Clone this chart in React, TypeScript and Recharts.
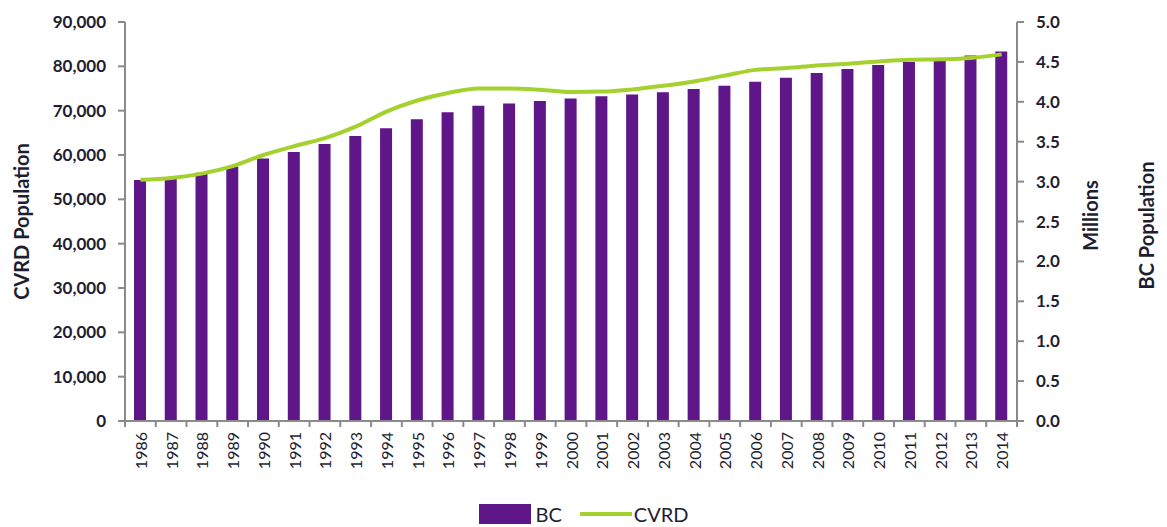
import {
  ComposedChart,
  Bar,
  Line,
  XAxis,
  YAxis,
  Legend,
} from "recharts";

const years = [
  "1986", "1987", "1988", "1989", "1990", "1991", "1992", "1993", "1994", "1995",
  "1996", "1997", "1998", "1999", "2000", "2001", "2002", "2003", "2004", "2005",
  "2006", "2007", "2008", "2009", "2010", "2011", "2012", "2013", "2014",
];

// BC population, millions (right axis)
const bcPopulation = [
  3.02, 3.05, 3.11, 3.19, 3.29, 3.37, 3.47, 3.57, 3.67, 3.78,
  3.87, 3.95, 3.98, 4.01, 4.04, 4.07, 4.09, 4.12, 4.16, 4.2,
  4.25, 4.3, 4.36, 4.41, 4.46, 4.5, 4.52, 4.58, 4.63,
];

// CVRD population (left axis)
const cvrdPopulation = [
  54400, 54800, 55800, 57500, 60000, 62000, 63800, 66400, 69800, 72300,
  74000, 75000, 75000, 74700, 74200, 74300, 74800, 75600, 76600, 77900,
  79200, 79600, 80200, 80600, 81100, 81500, 81600, 81900, 82700,
];

const leftTicks = [0, 10000, 20000, 30000, 40000, 50000, 60000, 70000, 80000, 90000];
const rightTicks = [0, 0.5, 1, 1.5, 2, 2.5, 3, 3.5, 4, 4.5, 5];

const chartData = years.map((year, i) => ({
  year,
  bc: bcPopulation[i],
  cvrd: cvrdPopulation[i],
}));

const PURPLE = "#5f1689";
const GREEN = "#a5d12f";
const AXIS = "#8a8a8a";
const TEXT = "#1e1e32";
const FONT = "Lato, 'Open Sans', sans-serif";

const HALF_BAND = (1017 - 125) / years.length / 2;

function YearTick(props: any) {
  const { x, y, payload, index } = props;
  return (
    <g>
      <line x1={x - HALF_BAND} x2={x - HALF_BAND} y1={y - 8} y2={y - 2} stroke={AXIS} strokeWidth={2} />
      {index === years.length - 1 && (
        <line x1={x + HALF_BAND} x2={x + HALF_BAND} y1={y - 8} y2={y - 2} stroke={AXIS} strokeWidth={2} />
      )}
      <text
        x={x}
        y={y + 3}
        transform={`rotate(-90, ${x}, ${y + 3})`}
        textAnchor="end"
        dominantBaseline="central"
        fontSize={16}
        fontFamily={FONT}
        fill={TEXT}
      >
        {payload.value}
      </text>
    </g>
  );
}

function RightTitle(props: any) {
  const { viewBox } = props;
  const cy = viewBox.y + viewBox.height / 2;
  return (
    <g fontFamily={FONT} fontWeight="bold" fontSize={20} fill={TEXT}>
      <text x={1090} y={cy - 6} transform={`rotate(-90, 1090, ${cy - 6})`} textAnchor="middle" dominantBaseline="central">
        Millions
      </text>
      <text x={1146} y={cy + 4} transform={`rotate(-90, 1146, ${cy + 4})`} textAnchor="middle" dominantBaseline="central">
        BC Population
      </text>
    </g>
  );
}

function LegendContent() {
  return (
    <div
      style={{
        display: "flex",
        justifyContent: "center",
        alignItems: "center",
        fontFamily: FONT,
        fontSize: 20,
        color: TEXT,
        height: 26,
        lineHeight: "22px",
      }}
    >
      <span style={{ display: "inline-block", width: 52, height: 20, background: PURPLE, marginRight: 5 }} />
      <span style={{ marginRight: 18 }}>BC</span>
      <span style={{ display: "inline-block", width: 52, height: 4, background: GREEN, marginRight: 2 }} />
      <span>CVRD</span>
    </div>
  );
}

export default function App() {
  return (
    <div style={{ position: "absolute", left: 0, top: 0, width: 1167, height: 527, background: "#fff", overflow: "hidden" }}>
      <ComposedChart
        width={1167}
        height={527}
        data={chartData}
        margin={{ top: 22, right: 0, left: 0, bottom: 0 }}
        barSize={12}
      >
        <XAxis
          dataKey="year"
          tick={<YearTick />}
          tickLine={false}
          axisLine={{ stroke: AXIS, strokeWidth: 2 }}
          interval={0}
          height={80}
        />
        <YAxis
          yAxisId="left"
          orientation="left"
          width={125}
          domain={[0, 90000]}
          ticks={leftTicks}
          tickFormatter={(v: number) => v.toLocaleString("en-US")}
          tick={{ fontSize: 17, fontWeight: "bold", fill: TEXT, fontFamily: FONT }}
          tickSize={7}
          tickMargin={12}
          tickLine={{ stroke: AXIS, strokeWidth: 2 }}
          axisLine={{ stroke: AXIS, strokeWidth: 2 }}
          label={{
            value: "CVRD Population",
            angle: -90,
            position: "insideLeft",
            offset: 22,
            style: { fontSize: 20, fontWeight: "bold", fill: TEXT, fontFamily: FONT, textAnchor: "middle" },
          }}
        />
        <YAxis
          yAxisId="right"
          orientation="right"
          width={150}
          domain={[0, 5]}
          ticks={rightTicks}
          tickFormatter={(v: number) => v.toFixed(1)}
          tick={{ fontSize: 17, fontWeight: "bold", fill: TEXT, fontFamily: FONT }}
          tickSize={7}
          tickMargin={12}
          tickLine={{ stroke: AXIS, strokeWidth: 2 }}
          axisLine={{ stroke: AXIS, strokeWidth: 2 }}
          label={<RightTitle />}
        />
        <Legend verticalAlign="bottom" height={26} content={<LegendContent />} />
        <Bar yAxisId="right" dataKey="bc" name="BC" fill={PURPLE} isAnimationActive={false} />
        <Line
          yAxisId="left"
          type="monotone"
          dataKey="cvrd"
          name="CVRD"
          stroke={GREEN}
          strokeWidth={4}
          dot={false}
          isAnimationActive={false}
        />
      </ComposedChart>
    </div>
  );
}
